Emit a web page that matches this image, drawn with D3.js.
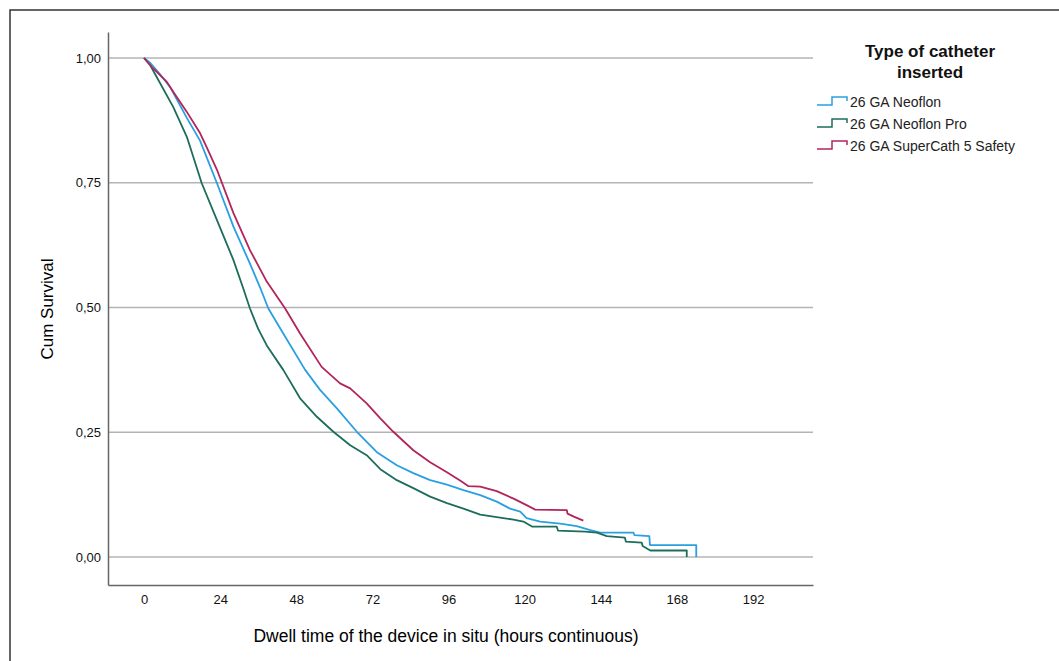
<!DOCTYPE html>
<html lang="en">
<head>
  <meta charset="UTF-8">
  <title>Cum Survival by catheter type</title>
  <script src="https://d3js.org/d3.v7.min.js"></script>
  <style>
    body {
      margin: 0;
      overflow: hidden;
      background: white;
      font-family: "Liberation Sans", Arial, sans-serif;
    }
  </style>
</head>
<body>
  <script>
    // [hours, cumulative survival]
    const neoflon = [
      [0, 1.0], [2, 0.99], [5, 0.968], [8.2, 0.942], [13.5, 0.880], [17.7, 0.834],
      [23, 0.749], [28.2, 0.662], [33.4, 0.588], [36.6, 0.540], [39.2, 0.498],
      [43.9, 0.448], [50.8, 0.375], [55.5, 0.335], [60.8, 0.298], [67.1, 0.251],
      [73.4, 0.210], [79.7, 0.184], [84.9, 0.168], [90.2, 0.154], [95.5, 0.145],
      [100.7, 0.134], [106, 0.124], [111.2, 0.111], [115.4, 0.097], [118.6, 0.091],
      [120.6, 0.078], [124.9, 0.071], [131.2, 0.067], [136.4, 0.062], [140.7, 0.054],
      [143.8, 0.049], [154.3, 0.049], [154.6, 0.044], [159.3, 0.042], [159.5, 0.024],
      [174.1, 0.024], [174.1, 0.0]
    ];
    const neoflonPro = [
      [0, 1.0], [2, 0.985], [4, 0.962], [9.2, 0.902], [13.5, 0.842], [18.2, 0.749],
      [23, 0.675], [28.2, 0.595], [31.3, 0.538], [33.4, 0.498], [36, 0.457],
      [38.7, 0.424], [43.9, 0.375], [49.2, 0.318], [54.5, 0.281], [59.7, 0.251],
      [65, 0.224], [70.2, 0.204], [74.5, 0.176], [79.7, 0.154], [84.9, 0.138],
      [90.2, 0.121], [95.5, 0.108], [100.7, 0.097], [106, 0.085], [111.2, 0.080],
      [116.5, 0.075], [119.6, 0.071], [122.3, 0.061], [130.1, 0.061], [130.5, 0.053],
      [139.1, 0.051], [142.8, 0.049], [145.9, 0.042], [151.6, 0.039], [151.9, 0.031],
      [156.9, 0.029], [157.2, 0.022], [159.6, 0.013], [171.1, 0.013], [171.1, 0.0]
    ];
    const superCath = [
      [0, 1.0], [2.9, 0.979], [7.2, 0.952], [10, 0.925], [13.5, 0.892], [17.7, 0.849],
      [20, 0.818], [23, 0.776], [28.2, 0.689], [33.4, 0.615], [38.7, 0.552],
      [44.5, 0.498], [49.2, 0.448], [56, 0.381], [61.8, 0.348], [65, 0.338],
      [70.2, 0.308], [74.5, 0.278], [78.6, 0.251], [84.9, 0.214], [90.2, 0.190],
      [95.5, 0.170], [100, 0.152], [102.3, 0.142], [106, 0.141], [111.2, 0.132],
      [116.5, 0.117], [120.6, 0.104], [123.3, 0.095], [133.3, 0.094], [133.5, 0.087],
      [135.5, 0.081], [137, 0.077], [138.5, 0.073]
    ];

    const seriesNames = ["26 GA Neoflon", "26 GA Neoflon Pro", "26 GA SuperCath 5 Safety"];
    const seriesData = [neoflon, neoflonPro, superCath];
    const seriesColors = ["#2a9fe2", "#1d6d5c", "#b3245c"];

    const xTicks = [0, 24, 48, 72, 96, 120, 144, 168, 192];
    const yTicks = [0, 0.25, 0.5, 0.75, 1.0];

    const width = 1059;
    const height = 661;

    const svg = d3.select("body")
      .append("svg")
      .attr("width", width)
      .attr("height", height);

    // outer frame (right and bottom edges are cut off in the original)
    svg.append("rect")
      .attr("x", 10)
      .attr("y", 10)
      .attr("width", width + 20)
      .attr("height", height + 20)
      .attr("fill", "none")
      .attr("stroke", "#333")
      .attr("stroke-width", 1.5);

    const x = d3.scaleLinear().domain([-11.35, 210.9]).range([108, 813]);
    const y = d3.scaleLinear().domain([-0.0561, 1.0521]).range([585, 32]);

    // gridlines
    svg.append("g")
      .selectAll("line")
      .data(yTicks)
      .join("line")
      .attr("x1", x.range()[0])
      .attr("x2", x.range()[1])
      .attr("y1", d => y(d))
      .attr("y2", d => y(d))
      .attr("stroke", "#b4b4b4")
      .attr("stroke-width", 1.5);

    const fmt = d => d3.format(".2f")(d).replace(".", ",");

    const yAxis = svg.append("g")
      .attr("transform", `translate(${x.range()[0]},0)`)
      .call(d3.axisLeft(y).tickValues(yTicks).tickFormat(fmt).tickSize(0).tickPadding(7));
    yAxis.select(".domain").attr("stroke", "#666").attr("stroke-width", 1.5);
    yAxis.selectAll("text")
      .attr("font-family", "Liberation Sans, Arial, sans-serif")
      .attr("font-size", 13)
      .attr("fill", "#111");

    const xAxis = svg.append("g")
      .attr("transform", `translate(0,${y.range()[0]})`)
      .call(d3.axisBottom(x).tickValues(xTicks).tickSize(0).tickPadding(10));
    xAxis.select(".domain").attr("stroke", "#666").attr("stroke-width", 1.5);
    xAxis.selectAll("text")
      .attr("font-family", "Liberation Sans, Arial, sans-serif")
      .attr("font-size", 13)
      .attr("fill", "#111");

    // curves
    const line = d3.line()
      .x(d => x(d[0]))
      .y(d => y(d[1]));

    svg.append("g")
      .selectAll("path")
      .data(seriesData)
      .join("path")
      .attr("d", line)
      .attr("fill", "none")
      .attr("stroke", (d, i) => seriesColors[i])
      .attr("stroke-width", 1.8)
      .attr("stroke-linejoin", "round");

    // axis titles
    svg.append("text")
      .attr("x", 446)
      .attr("y", 642)
      .attr("text-anchor", "middle")
      .attr("font-size", 17.5)
      .attr("fill", "#000")
      .text("Dwell time of the device in situ (hours continuous)");

    svg.append("text")
      .attr("transform", "translate(53,309) rotate(-90)")
      .attr("text-anchor", "middle")
      .attr("font-size", 17)
      .attr("fill", "#000")
      .text("Cum Survival");

    // legend
    const legend = svg.append("g");
    legend.append("text")
      .attr("x", 930)
      .attr("y", 57)
      .attr("text-anchor", "middle")
      .attr("font-size", 17)
      .attr("font-weight", "bold")
      .attr("fill", "#111")
      .selectAll("tspan")
      .data(["Type of catheter", "inserted"])
      .join("tspan")
      .attr("x", 930)
      .attr("dy", (d, i) => i === 0 ? 0 : 21)
      .text(d => d);

    const items = legend.selectAll("g.item")
      .data(seriesNames)
      .join("g")
      .attr("class", "item")
      .attr("transform", (d, i) => `translate(817,${102 + i * 22})`);

    items.append("path")
      .attr("d", "M0,3 H15 V-5 H30 V-1")
      .attr("fill", "none")
      .attr("stroke", (d, i) => seriesColors[i])
      .attr("stroke-width", 1.5);

    items.append("text")
      .attr("x", 33)
      .attr("y", 5)
      .attr("font-size", 14)
      .attr("fill", "#222")
      .text(d => d);
  </script>
</body>
</html>
